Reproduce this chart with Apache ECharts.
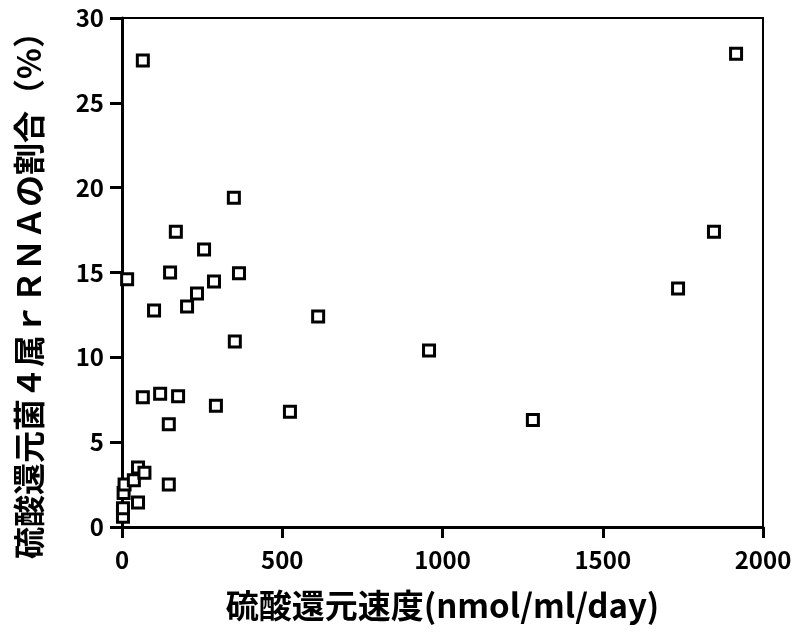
<!DOCTYPE html>
<html>
<head>
<meta charset="utf-8">
<script src="https://cdn.jsdelivr.net/npm/echarts@6/dist/echarts.min.js"></script>
<style>
html,body{margin:0;padding:0;background:#fff;}
#chart{width:795px;height:635px;}
</style>
</head>
<body>
<div id="chart"></div>
<script>
// sulfate reduction rate (nmol/ml/day)
const rateX = [65, 1916, 1847, 1735, 349, 168, 256, 150, 365, 16, 287, 234, 203, 100, 612, 352, 958,
  65, 119, 175, 293, 524, 1282, 146,
  3, 3, 5, 8, 37, 50, 50, 70, 146];
// share of 4 SRB genera rRNA (%)
const ratioY = [27.5, 27.9, 17.4, 14.05, 19.4, 17.4, 16.35, 15.0, 14.95, 14.6, 14.47, 13.76, 13.0, 12.76, 12.4, 10.94, 10.4,
  7.65, 7.85, 7.7, 7.15, 6.8, 6.3, 6.05,
  0.6, 1.1, 2.0, 2.5, 2.75, 1.45, 3.5, 3.2, 2.5];
const xTicks = [0, 500, 1000, 1500, 2000];
const yTicks = [0, 5, 10, 15, 20, 25, 30];
const xName = '硫酸還元速度(nmol/ml/day)';
const yName = '硫酸還元菌４属ｒＲＮＡの割合（%）';

const points = rateX.map((x, i) => [x, ratioY[i]]);
const font = "'Noto Sans CJK JP', 'Noto Sans', sans-serif";
const chart = echarts.init(document.getElementById('chart'), null, {renderer: 'canvas'});
chart.setOption({
  animation: false,
  backgroundColor: '#fff',
  grid: {left: 122, right: 32, top: 18, bottom: 108, show: true, borderColor: '#000', borderWidth: 2, backgroundColor: 'transparent'},
  xAxis: {
    type: 'value', min: xTicks[0], max: xTicks[xTicks.length - 1], interval: 500,
    name: xName, nameLocation: 'middle', nameGap: 62,
    nameTextStyle: {fontFamily: font, fontWeight: 'bold', fontSize: 33, color: '#000'},
    axisLine: {show: true, lineStyle: {color: '#000', width: 3}},
    axisTick: {show: true, inside: false, length: 11, lineStyle: {color: '#000', width: 3}},
    axisLabel: {margin: 21, fontFamily: font, fontWeight: 'bold', fontSize: 24, color: '#000',
      formatter: v => String(v)},
    splitLine: {show: false}
  },
  yAxis: {
    type: 'value', min: yTicks[0], max: yTicks[yTicks.length - 1], interval: 5,
    name: yName, nameLocation: 'middle', nameGap: 77, nameRotate: 90,
    nameTextStyle: {fontFamily: font, fontWeight: 'bold', fontSize: 32, color: '#000', padding: [0, 30, 0, 0]},
    axisLine: {show: true, lineStyle: {color: '#000', width: 3}},
    axisTick: {show: true, inside: false, length: 12, lineStyle: {color: '#000', width: 3}},
    axisLabel: {margin: 18, fontFamily: font, fontWeight: 'bold', fontSize: 24, color: '#000',
      formatter: v => String(v)},
    splitLine: {show: false}
  },
  series: [{
    type: 'scatter',
    data: points,
    symbol: 'rect',
    symbolSize: 11,
    itemStyle: {color: '#fff', borderColor: '#000', borderWidth: 3, opacity: 1},
    clip: false
  }]
});
</script>
</body>
</html>
